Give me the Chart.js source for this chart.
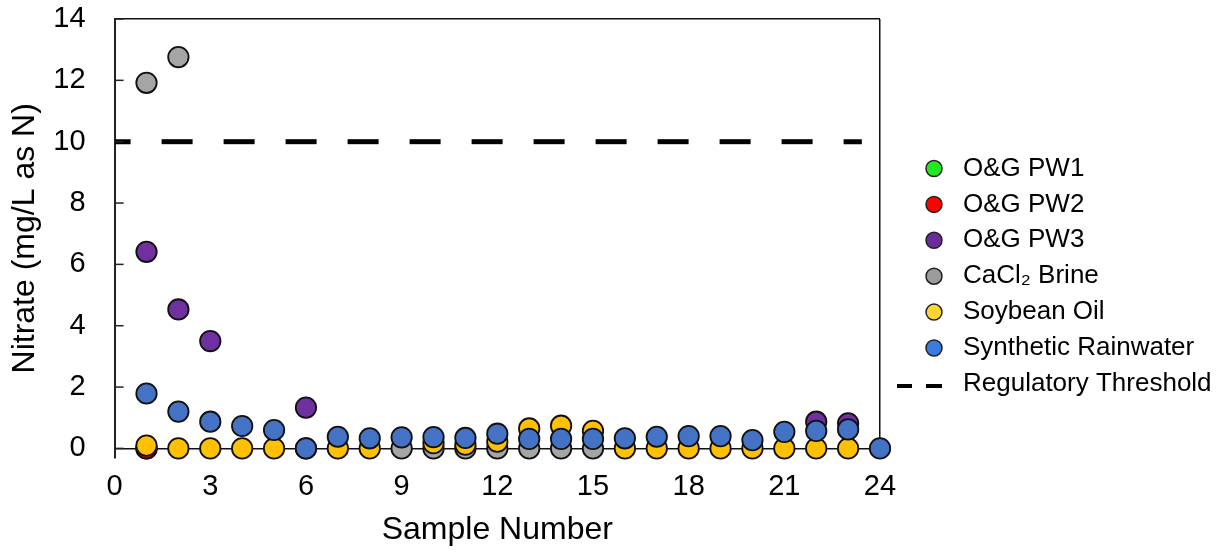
<!DOCTYPE html>
<html>
<head>
<meta charset="utf-8">
<script src="https://cdn.jsdelivr.net/npm/chart.js@4.4.1/dist/chart.umd.min.js"></script>
<style>
  body { margin: 0; background: #fff; }
  #wrap { width: 1227px; height: 552px; }
</style>
</head>
<body>
<div id="wrap"><canvas id="c" width="1227" height="552"></canvas></div>
<script>
// nitrate per sample
const xTicks = [0, 3, 6, 9, 12, 15, 18, 21, 24];
const yTicks = [0, 2, 4, 6, 8, 10, 12, 14];

const pw1X = [1];
const pw1Y = [0];
const pw2X = [1];
const pw2Y = [0];
const pw3X = [1, 2, 3, 6, 22, 23];
const pw3Y = [6.41, 4.53, 3.50, 1.33, 0.87, 0.82];
const brineX = [1, 2, 9, 10, 11, 12, 13, 14, 15];
const brineY = [11.92, 12.76, 0, 0, 0, 0, 0, 0, 0];
const soyX = [1, 2, 3, 4, 5, 6, 7, 8, 10, 11, 12, 13, 14, 15, 16, 17, 18, 19, 20, 21, 22, 23];
const soyY = [0.09, 0, 0, 0, 0, 0, 0, 0, 0.17, 0.12, 0.22, 0.65, 0.74, 0.57, 0, 0, 0, 0, 0, 0, 0, 0];
const rainX = [1, 2, 3, 4, 5, 6, 7, 8, 9, 10, 11, 12, 13, 14, 15, 16, 17, 18, 19, 20, 21, 22, 23, 24];
const rainY = [1.79, 1.20, 0.87, 0.73, 0.60, 0, 0.38, 0.33, 0.36, 0.37, 0.34, 0.48, 0.31, 0.31, 0.31,
               0.33, 0.38, 0.40, 0.40, 0.27, 0.54, 0.57, 0.62, 0];
const thresholdX = [0, 23.43];
const thresholdY = [10, 10];

const pts = (xs, ys) => xs.map((x, i) => ({ x: x, y: ys[i] }));

function series(label, xs, ys, color, legendColor, order) {
  return {
    label: label,
    data: pts(xs, ys),
    backgroundColor: color,
    borderColor: '#111',
    borderWidth: 1.8,
    pointRadius: 10.2,
    pointHoverRadius: 10.2,
    legendColor: legendColor,
    order: order,
    clip: false
  };
}

const FONT = "'Liberation Sans', Arial, sans-serif";

// legend on the right + inside tick marks on the y axis
const extras = {
  id: 'extras',
  afterDraw(chart) {
    const ctx = chart.ctx;
    const area = chart.chartArea;
    const y = chart.scales.y;
    ctx.save();
    ctx.strokeStyle = '#222';
    ctx.lineWidth = 1.5;
    yTicks.forEach(v => {
      const py = y.getPixelForValue(v);
      ctx.beginPath();
      ctx.moveTo(area.left, py);
      ctx.lineTo(area.left + 9, py);
      ctx.stroke();
    });

    const lx = 934, tx = 963, top = 168.5, step = 35.9;
    ctx.font = '26px ' + FONT;
    ctx.fillStyle = '#000';
    ctx.textBaseline = 'middle';
    chart.data.datasets.forEach((ds, i) => {
      const cy = top + i * step;
      if (ds.legendDash) {
        ctx.strokeStyle = '#000';
        ctx.lineWidth = 4;
        ctx.beginPath();
        ctx.moveTo(897, cy + 2); ctx.lineTo(912, cy + 2);
        ctx.moveTo(926, cy + 2); ctx.lineTo(942, cy + 2);
        ctx.stroke();
      } else {
        ctx.beginPath();
        ctx.arc(lx, cy, 8, 0, Math.PI * 2);
        ctx.fillStyle = ds.legendColor;
        ctx.fill();
        ctx.strokeStyle = '#222';
        ctx.lineWidth = 1.5;
        ctx.stroke();
      }
      ctx.fillStyle = '#000';
      ctx.fillText(ds.label, tx, cy);
    });
    ctx.restore();
  }
};

new Chart(document.getElementById('c').getContext('2d'), {
  type: 'scatter',
  data: {
    datasets: [
      series('O&G PW1', pw1X, pw1Y, '#22E822', '#22E822', 6),
      series('O&G PW2', pw2X, pw2Y, '#FF0000', '#FF0000', 5),
      series('O&G PW3', pw3X, pw3Y, '#7030A0', '#6A2C9A', 4),
      series('CaCl\u2082 Brine', brineX, brineY, '#A5A5A5', '#9B9B9B', 3),
      series('Soybean Oil', soyX, soyY, '#FFC000', '#FDD633', 2),
      series('Synthetic Rainwater', rainX, rainY, '#4472C4', '#3A7CDB', 1),
      {
        label: 'Regulatory Threshold',
        data: pts(thresholdX, thresholdY),
        showLine: true,
        borderColor: '#000',
        borderWidth: 5,
        borderDash: [31, 31],
        borderDashOffset: 15,
        pointRadius: 0,
        pointHoverRadius: 0,
        legendDash: true,
        order: 7
      }
    ]
  },
  options: {
    responsive: false,
    animation: false,
    layout: { padding: { top: 19, right: 347, bottom: 0, left: 0 } },
    plugins: { legend: { display: false }, tooltip: { enabled: false } },
    scales: {
      x: {
        type: 'linear',
        min: 0, max: 24,
        afterBuildTicks: s => { s.ticks = xTicks.map(v => ({ value: v })); },
        afterFit: s => { s.height = 94.4; s.paddingLeft = 0; s.paddingRight = 0; },
        ticks: { padding: 12, color: '#000', font: { family: FONT, size: 29 } },
        grid: {
          drawTicks: false,
          color: c => (c.tick && c.tick.value === 24) ? '#111' : 'rgba(0,0,0,0)',
          lineWidth: 1.5
        },
        border: { display: false },
        title: {
          display: true, text: 'Sample Number', color: '#000',
          font: { family: FONT, size: 32 }, padding: { top: 0, bottom: 3 }
        }
      },
      y: {
        type: 'linear',
        min: -0.3, max: 14,
        afterBuildTicks: s => { s.ticks = yTicks.map(v => ({ value: v })); },
        afterFit: s => { s.width = 114.6; s.paddingTop = 0; s.paddingBottom = 0; },
        ticks: { padding: 29, color: '#000', font: { family: FONT, size: 29 } },
        grid: {
          drawTicks: false,
          color: c => (c.tick && (c.tick.value === 0 || c.tick.value === 14)) ? '#111' : 'rgba(0,0,0,0)',
          lineWidth: 1.5
        },
        border: { display: true, color: '#222', width: 2 },
        title: {
          display: true, text: 'Nitrate (mg/L as N)', color: '#000',
          font: { family: FONT, size: 32 }, padding: { top: 6, bottom: 0 }
        }
      }
    }
  },
  plugins: [extras]
});
</script>
</body>
</html>
